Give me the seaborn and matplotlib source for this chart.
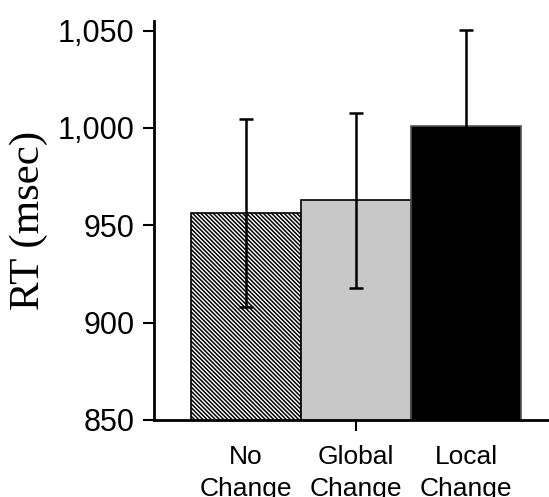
import matplotlib
matplotlib.use("Agg")
import matplotlib.pyplot as plt
import seaborn as sns
import pandas as pd
from matplotlib.ticker import FuncFormatter

# Values
conditions = ["No\nChange", "Global\nChange", "Local\nChange"]
mean_rt = [956.5, 962.8, 1000.8]
err_rt = [48.3, 44.8, 49.5]
bar_colors = ["white", "#c8c8c8", "black"]
y_ticks = [850, 900, 950, 1000, 1050]

df = pd.DataFrame({"condition": conditions, "rt": mean_rt})

sns.set_style("ticks", {"text.color": "black", "axes.labelcolor": "black",
                        "xtick.color": "black", "ytick.color": "black",
                        "axes.edgecolor": "black"})
plt.rcParams["font.family"] = ["Liberation Sans", "DejaVu Sans"]
plt.rcParams["hatch.linewidth"] = 1.1

fig = plt.figure(figsize=(5.49, 4.97), dpi=100)
ax = fig.add_axes([0.2805, 0.155, 0.7195, 0.803])

sns.barplot(data=df, x="condition", y="rt", hue="condition", palette=bar_colors,
            width=1.0, errorbar=None, legend=False, ax=ax, saturation=1)

edge_cols = ["black", "black", "#555555"]
for i, patch in enumerate(ax.patches):
    patch.set_edgecolor(edge_cols[i])
    patch.set_linewidth(1.2)
ax.patches[0].set_hatch("\\\\\\\\\\\\\\\\")

ax.errorbar(range(len(conditions)), mean_rt, yerr=err_rt, fmt="none",
            ecolor="black", elinewidth=1.8, capsize=5, capthick=1.8, zorder=5)

ax.set_ylim(850, 1055)
ax.set_xlim(-0.836, 2.755)
ax.set_yticks(y_ticks)
ax.yaxis.set_major_formatter(FuncFormatter(lambda v, pos: f"{int(v):,}"))

ax.set_xlabel("")
ax.set_ylabel("RT (msec)", family=["Liberation Serif", "DejaVu Serif"],
              fontsize=31, labelpad=7)

ax.tick_params(axis="y", labelsize=22, length=8, width=1.5, pad=6)
ax.tick_params(axis="x", labelsize=19, length=8, width=1.5, pad=10)
for i, t in enumerate(ax.xaxis.get_major_ticks()):
    if i != 1:
        t.tick1line.set_visible(False)
for lbl in ax.get_xticklabels():
    lbl.set_linespacing(1.4)

sns.despine(ax=ax)
ax.spines["left"].set_linewidth(2)
ax.spines["bottom"].set_linewidth(2)

fig.savefig("out.png", dpi=100)
